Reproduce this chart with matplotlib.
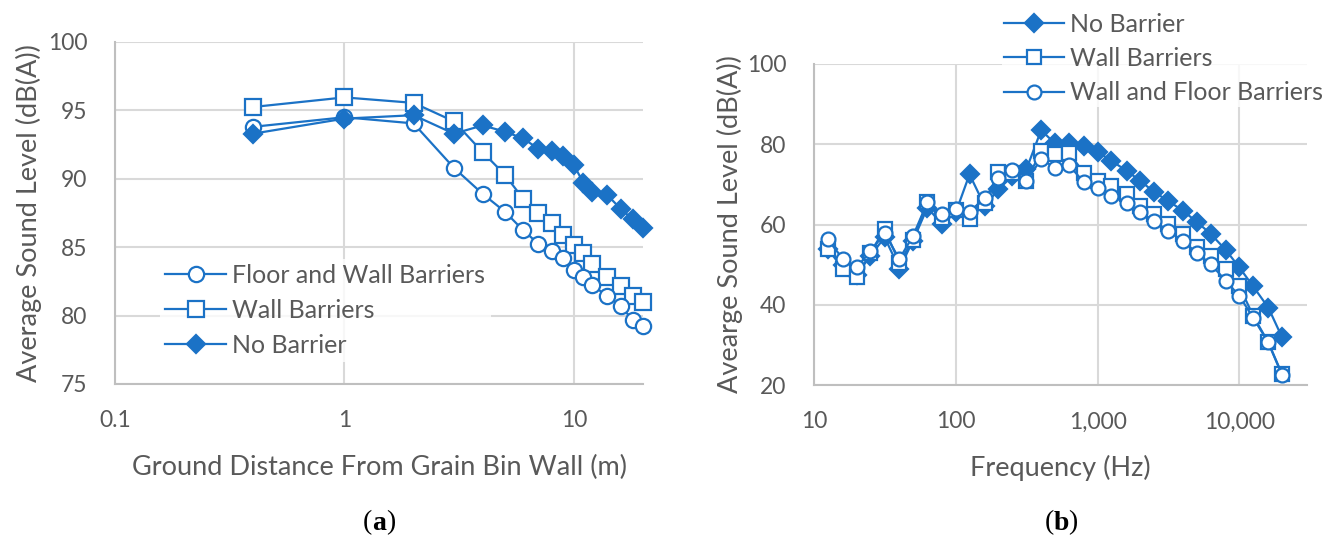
import matplotlib
matplotlib.use("Agg")
import matplotlib.pyplot as plt
from matplotlib.ticker import FixedLocator, FixedFormatter, NullLocator

# ---------------- data (a) ----------------
distance_m = [0.4, 1, 2, 3, 4, 5, 6, 7, 8, 9, 10, 11, 12, 14, 16, 18, 20]
floor_wall = [93.8, 94.5, 94.05, 90.8, 88.9, 87.6, 86.25, 85.25, 84.7, 84.2, 83.3, 82.85, 82.25, 81.4, 80.7, 79.7, 79.25]
wall_only = [95.25, 95.95, 95.55, 94.2, 91.95, 90.3, 88.55, 87.5, 86.8, 85.9, 85.15, 84.55, 83.8, 82.85, 82.15, 81.4, 81.0]
no_barrier_a = [93.3, 94.4, 94.65, 93.3, 93.9, 93.45, 92.95, 92.2, 92.0, 91.7, 91.0, 89.7, 89.05, 88.8, 87.8, 87.05, 86.4]

# ---------------- data (b) ----------------
freq_hz = [12.5, 16, 20, 25, 31.5, 40, 50, 63, 80, 100, 125, 160, 200, 250, 315,
           400, 500, 630, 800, 1000, 1250, 1600, 2000, 2500, 3150, 4000, 5000,
           6300, 8000, 10000, 12500, 16000, 20000]
no_barrier_b = [53.8, 50.0, 47.5, 52.2, 56.8, 49.0, 56.0, 64.2, 60.1, 63.0, 72.5, 64.6, 68.8, 72.0, 73.8,
                83.5, 80.2, 80.4, 79.6, 78.1, 75.9, 73.4, 70.9, 68.1, 65.9, 63.4, 60.7,
                57.6, 53.7, 49.3, 44.6, 39.3, 31.9]
wall_b = [54.0, 48.9, 46.8, 53.0, 58.8, 50.5, 56.2, 65.7, 61.7, 63.7, 61.3, 65.3, 73.0, 72.8, 70.9,
          78.3, 77.5, 77.8, 72.9, 70.9, 69.6, 67.6, 64.5, 62.6, 60.1, 57.6, 54.3,
          52.2, 48.9, 44.6, 37.3, 30.6, 22.7]
wall_floor_b = [56.3, 51.4, 49.3, 53.3, 57.8, 51.4, 57.2, 65.5, 62.6, 63.8, 63.0, 66.5, 71.7, 73.6, 70.9,
                76.3, 74.2, 74.8, 70.5, 69.2, 67.1, 65.3, 63.0, 60.9, 58.4, 55.9, 52.9,
                50.1, 46.0, 42.2, 36.8, 30.6, 22.5]

a_xticks = [0.1, 1, 10]
a_xticklabels = ["0.1", "1", "10"]
a_yticks = [75, 80, 85, 90, 95, 100]
b_xticks = [10, 100, 1000, 10000]
b_xticklabels = ["10", "100", "1,000", "10,000"]
b_yticks = [20, 40, 60, 80, 100]

BLUE = "#1b72c6"
GRAY_TXT = "#595959"
GRID = "#d9d9d9"
FONT = ["Lato", "DejaVu Sans"]

plt.rcParams["font.family"] = FONT

fig = plt.figure(figsize=(13.35, 5.45), dpi=100)
W, H = 1335, 545

TICK_FS = 16.5
LABEL_FS = 19.5
LEG_FS = 18

def axes_px(x0, x1, ytop, ybot):
    return fig.add_axes([x0 / W, 1 - ybot / H, (x1 - x0) / W, (ybot - ytop) / H])

def style(ax):
    for s in ["top", "right"]:
        ax.spines[s].set_visible(False)
    for s in ["left", "bottom"]:
        ax.spines[s].set_color("#bfbfbf")
        ax.spines[s].set_linewidth(1.5)
    ax.grid(True, which="major", color=GRID, linewidth=1.5, zorder=0)
    ax.set_axisbelow(True)
    ax.tick_params(which="both", length=0, labelsize=TICK_FS, colors=GRAY_TXT)
    ax.tick_params(axis="x", pad=19)
    ax.tick_params(axis="y", pad=20)

lw = 1.6
mew = 1.6

# ---------------- panel (a) ----------------
ax1 = axes_px(115, 643, 42, 384)
ax1.set_xscale("log")
style(ax1)
l_w, = ax1.plot(distance_m, wall_only, color=BLUE, lw=lw, marker="s", ms=11,
                mfc="white", mec=BLUE, mew=mew, label="Wall Barriers", clip_on=False, zorder=3)
l_fw, = ax1.plot(distance_m, floor_wall, color=BLUE, lw=lw, marker="o", ms=11,
                 mfc="white", mec=BLUE, mew=mew, label="Floor and Wall Barriers", clip_on=False, zorder=4)
l_nb, = ax1.plot(distance_m, no_barrier_a, color=BLUE, lw=lw, marker="D", ms=9,
                 mfc=BLUE, mec=BLUE, mew=mew, label="No Barrier", clip_on=False, zorder=5)
ax1.set_xlim(0.1, 20)
ax1.set_ylim(75, 100)
ax1.xaxis.set_major_locator(FixedLocator(a_xticks))
ax1.xaxis.set_major_formatter(FixedFormatter(a_xticklabels))
ax1.xaxis.set_minor_locator(NullLocator())
ax1.set_yticks(a_yticks)
ax1.set_xlabel("Ground Distance From Grain Bin Wall (m)", fontsize=LABEL_FS, color=GRAY_TXT, labelpad=17)
ax1.set_ylabel("Average Sound Level (dB(A))", fontsize=LABEL_FS, color=GRAY_TXT, labelpad=4)
leg1 = ax1.legend(handles=[l_fw, l_w, l_nb], loc="lower left",
                  bbox_to_anchor=((160 - 115) / 528, (384 - 362) / 342),
                  frameon=True, fontsize=LEG_FS, labelcolor=GRAY_TXT, handlelength=2.45,
                  handletextpad=0.25, labelspacing=0.48, borderpad=0.2, borderaxespad=0)
leg1.get_frame().set_facecolor("white")
leg1.get_frame().set_edgecolor("none")
leg1.set_zorder(2)

# ---------------- panel (b) ----------------
ax2 = axes_px(814, 1307, 64, 385)
ax2.set_xscale("log")
style(ax2)
m_nb, = ax2.plot(freq_hz, no_barrier_b, color=BLUE, lw=lw, marker="D", ms=9,
                 mfc=BLUE, mec=BLUE, mew=mew, label="No Barrier", clip_on=False, zorder=3)
m_w, = ax2.plot(freq_hz, wall_b, color=BLUE, lw=lw, marker="s", ms=10,
                mfc="white", mec=BLUE, mew=mew, label="Wall Barriers", clip_on=False, zorder=4)
m_wf, = ax2.plot(freq_hz, wall_floor_b, color=BLUE, lw=lw, marker="o", ms=10,
                 mfc="white", mec=BLUE, mew=mew, label="Wall and Floor Barriers", clip_on=False, zorder=5)
ax2.set_xlim(10, 30000)
ax2.set_ylim(20, 100)
ax2.xaxis.set_major_locator(FixedLocator(b_xticks))
ax2.xaxis.set_major_formatter(FixedFormatter(b_xticklabels))
ax2.xaxis.set_minor_locator(NullLocator())
ax2.set_yticks(b_yticks)
ax2.set_xlabel("Frequency (Hz)", fontsize=LABEL_FS, color=GRAY_TXT, labelpad=16)
ax2.set_ylabel("Avearge Sound Level (dB(A))", fontsize=LABEL_FS, color=GRAY_TXT, labelpad=3)
leg2 = ax2.legend(handles=[m_nb, m_w, m_wf], loc="upper right",
                  bbox_to_anchor=((1326 - 814) / 493, 1 + (64 - 10) / 321),
                  frameon=True, fontsize=LEG_FS, labelcolor=GRAY_TXT, handlelength=2.4,
                  handletextpad=0.25, labelspacing=0.46, borderpad=0.1, borderaxespad=0)
leg2.get_frame().set_facecolor("white")
leg2.get_frame().set_edgecolor("none")
leg2.set_zorder(10)

# ---------------- captions ----------------
def caption(xc, y, letter):
    serif = ["Liberation Serif", "DejaVu Serif"]
    fig.text(xc / W - 0.005, 1 - y / H, "(", ha="right", va="center", fontsize=20, family=serif)
    fig.text(xc / W, 1 - y / H, letter, ha="center", va="center", fontsize=20, family=serif, weight="bold")
    fig.text(xc / W + 0.005, 1 - y / H, ")", ha="left", va="center", fontsize=20, family=serif)

caption(379, 523, "a")
caption(1061, 523, "b")

fig.savefig("out.png", dpi=100)
